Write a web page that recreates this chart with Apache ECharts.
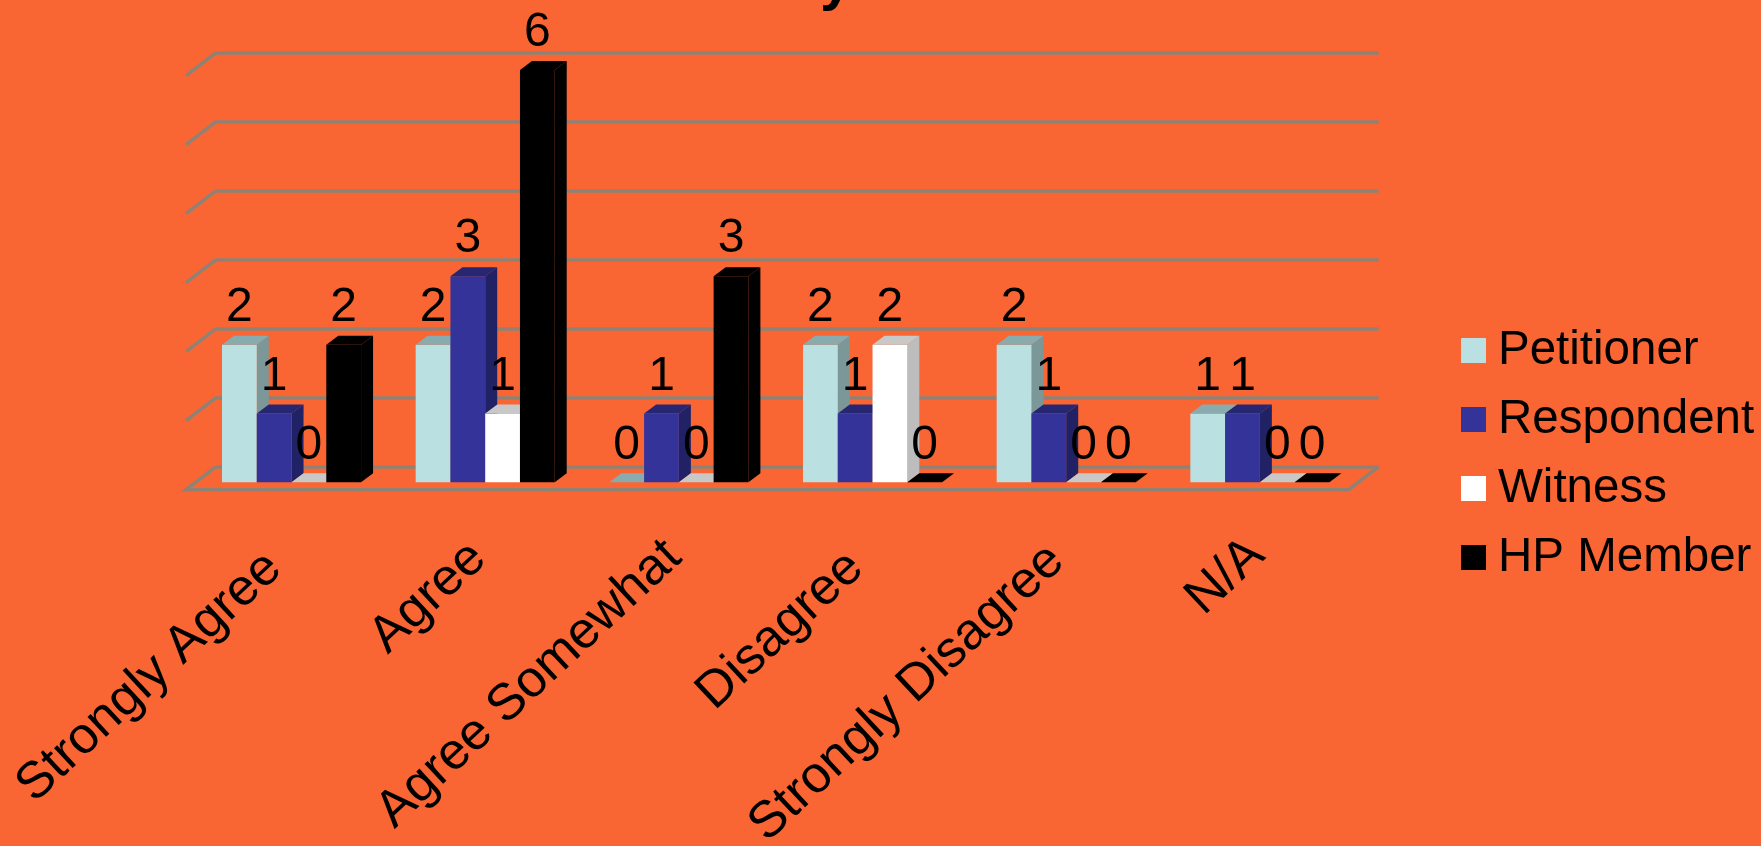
<!DOCTYPE html>
<html>
<head>
<meta charset="utf-8">
<style>
  html, body { margin: 0; padding: 0; background: #F96633; overflow: hidden; }
  #chart { width: 1761px; height: 846px; }
</style>
<script src="https://cdn.jsdelivr.net/npm/echarts@6/dist/echarts.min.js"></script>
</head>
<body>
<div id="chart"></div>
<script>
// Survey responses by participant role
const categories = ['Strongly Agree', 'Agree', 'Agree Somewhat', 'Disagree', 'Strongly Disagree', 'N/A'];
const petitioner = [2, 2, 0, 2, 2, 1];
const respondent = [1, 3, 1, 1, 1, 1];
const witness = [0, 1, 0, 2, 0, 0];
const hpMember = [2, 6, 3, 0, 0, 0];
const gridTicks = [0, 1, 2, 3, 4, 5, 6];

// How far each slanted category label slides along its own direction
const labelPull = [20, 5, 3, 19, 9, 0];

const BLACK = '#000000';
const FONT = '"Liberation Sans", Arial, sans-serif';
const GRID_COLOR = '#8F8274';

// Shading for each column: front face, top face, right-hand face
const palette = {
  Petitioner: { front: '#BAE0E2', top: '#8AABAD', side: '#7C9798' },
  Respondent: { front: '#333399', top: '#262673', side: '#212166' },
  Witness: { front: '#FFFFFF', top: '#C8C8C8', side: '#BDBDBD' },
  'HP Member': { front: '#000000', top: '#000000', side: '#000000' }
};

// Pseudo-3D depth of the chart floor and of one column
const WALL_DX = 30, WALL_DY = 23;
const BAR_DX = 12, BAR_DY = 9;
const BAR_BAND_RATIO = 0.1795;

function columnRenderer(seriesIndex, shades) {
  return function (params, api) {
    const cat = api.value(0), val = api.value(1);
    const band = api.size([1, 0])[0];
    const w = band * BAR_BAND_RATIO;
    const center = api.coord([cat, 0]);
    const top = api.coord([cat, val])[1];
    const base = center[1];
    const x0 = center[0] + (seriesIndex - 2) * w;
    const x1 = x0 + w;
    const children = [];
    if (val > 0) {
      children.push({
        type: 'polygon',
        shape: { points: [[x1, top], [x1 + BAR_DX, top - BAR_DY], [x1 + BAR_DX, base - BAR_DY], [x1, base]] },
        style: { fill: shades.side }
      });
      children.push({
        type: 'rect',
        shape: { x: x0, y: top, width: w, height: base - top },
        style: { fill: shades.front }
      });
    }
    children.push({
      type: 'polygon',
      shape: { points: [[x0, top], [x0 + BAR_DX, top - BAR_DY], [x1 + BAR_DX, top - BAR_DY], [x1, top]] },
      style: { fill: shades.top }
    });
    children.push({
      type: 'text',
      z2: 100,
      style: {
        text: String(val), x: (x0 + x1) / 2, y: top - 37,
        fill: BLACK, font: '48px ' + FONT, align: 'center', verticalAlign: 'middle'
      }
    });
    return { type: 'group', children };
  };
}

function columnSeries(name, values, index) {
  return {
    name,
    type: 'custom',
    xAxisIndex: 0,
    yAxisIndex: 0,
    clip: false,
    silent: true,
    itemStyle: { color: palette[name].front },
    encode: { x: 0, y: 1 },
    data: values.map((v, i) => [i, v]),
    renderItem: columnRenderer(index, palette[name])
  };
}

// Slanted strokes joining each gridline to the front edge, plus the floor outline
function wallRenderer(params, api) {
  const v = api.value(1);
  const y = api.coord([0, v])[1];
  const left = params.coordSys.x;
  const right = left + params.coordSys.width;
  const pts = v === 0
    ? [[left, y], [left - WALL_DX, y + WALL_DY], [right - WALL_DX, y + WALL_DY], [right, y]]
    : [[left, y], [left - WALL_DX, y + WALL_DY]];
  return {
    type: 'polyline',
    shape: { points: pts },
    style: { fill: null, stroke: GRID_COLOR, lineWidth: 3.5 }
  };
}

const chart = echarts.init(document.getElementById('chart'), null, { renderer: 'canvas', width: 1761, height: 846 });

chart.setOption({
  backgroundColor: '#F96633',
  animation: false,
  title: {
    text: 'y',
    left: 815,
    top: -51,
    textStyle: { color: BLACK, fontFamily: FONT, fontWeight: 'bold', fontSize: 58 }
  },
  legend: {
    orient: 'vertical',
    left: 1456,
    top: 317,
    itemWidth: 25,
    itemHeight: 25,
    itemGap: 12,
    icon: 'rect',
    selectedMode: false,
    data: Object.keys(palette),
    textStyle: { color: BLACK, fontFamily: FONT, fontSize: 47.5, lineHeight: 47, padding: [10, 0, 0, 7] }
  },
  grid: [
    { left: 194.7, width: 1162, top: 70, height: 412.3, outerBoundsMode: 'none' },
    { left: 216, width: 1162.6, top: 52.7, height: 414, outerBoundsMode: 'none' },
    // Carries only the category labels, set slightly left of the columns
    { left: 191.7, width: 1162, top: 70, height: 412.3, outerBoundsMode: 'none' }
  ],
  xAxis: [
    { type: 'category', gridIndex: 0, data: categories, show: false },
    { type: 'category', gridIndex: 1, data: categories, show: false },
    {
      type: 'category', gridIndex: 2,
      data: categories.map((c, i) => ({ value: c, textStyle: { padding: [0, labelPull[i], 0, 0] } })),
      axisLine: { show: false }, axisTick: { show: false }, splitLine: { show: false },
      axisLabel: { color: BLACK, fontFamily: FONT, fontSize: 51.5, rotate: 43, interval: 0, margin: 65 }
    }
  ],
  yAxis: [
    { type: 'value', gridIndex: 0, min: 0, max: 6, interval: 1, show: false },
    {
      type: 'value', gridIndex: 1, min: 0, max: 6, interval: 1,
      axisLine: { show: false }, axisTick: { show: false }, axisLabel: { show: false },
      splitLine: { show: true, lineStyle: { color: GRID_COLOR, width: 3.5 } }
    },
    { type: 'value', gridIndex: 2, min: 0, max: 6, interval: 1, show: false }
  ],
  series: [
    {
      name: 'wall',
      type: 'custom',
      xAxisIndex: 1,
      yAxisIndex: 1,
      clip: false,
      silent: true,
      encode: { x: 0, y: 1 },
      data: gridTicks.map(t => [0, t]),
      renderItem: wallRenderer
    },
    columnSeries('Petitioner', petitioner, 0),
    columnSeries('Respondent', respondent, 1),
    columnSeries('Witness', witness, 2),
    columnSeries('HP Member', hpMember, 3)
  ]
});
</script>
</body>
</html>
